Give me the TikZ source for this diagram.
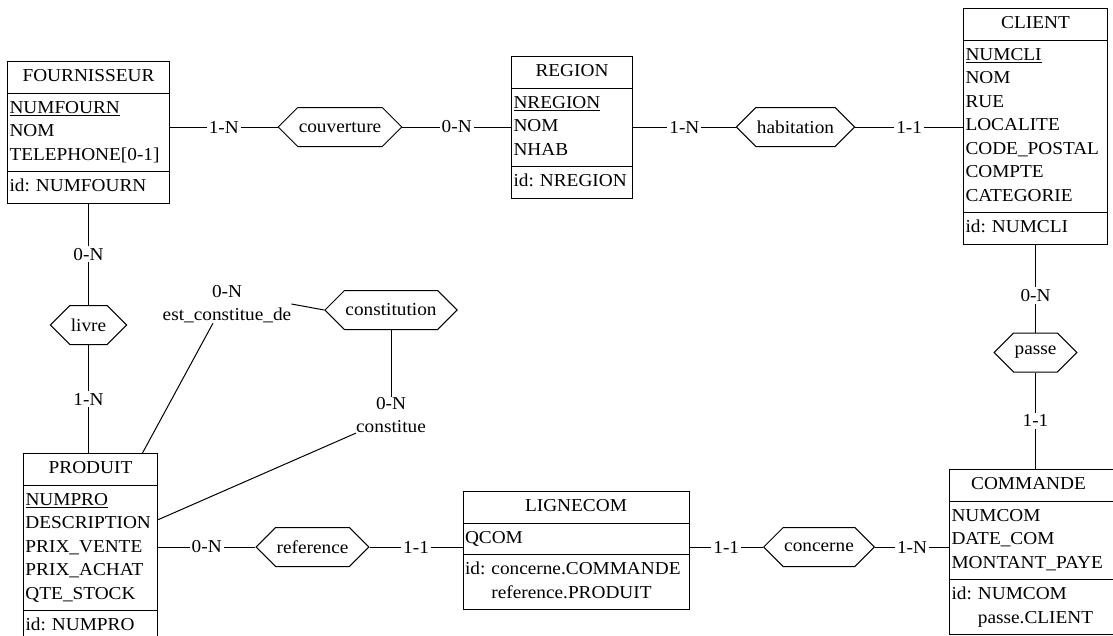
\documentclass[tikz,border=0pt]{standalone}
\usepackage{fontspec}
\setmainfont{Liberation Serif}[FakeStretch=1.06]
\usetikzlibrary{shapes.multipart,shapes.symbols,positioning}
\newcommand{\enttitle}[1]{\hbox to\hsize{\hfil\strut #1\hfil}}

\begin{document}
\begin{tikzpicture}[
  x=1pt, y=-1pt,
  font=\fontsize{18.2}{23.5}\selectfont\frenchspacing,
  entity/.style={draw, line width=1pt, rectangle split, rectangle split parts=3, text width=#1, align=left, inner xsep=2pt, inner ysep=3.5pt, anchor=north},
  rel/.style={draw, line width=1pt, signal, signal to=east and west, minimum height=39pt, inner xsep=1pt, inner ysep=0pt},
  link/.style={line width=1pt},
  card/.style={fill=white, inner sep=2pt},
  role/.style={align=center, inner sep=0pt}
]
\useasboundingbox (0,0) rectangle (1113,635);
% entities
\node[entity=158pt] (fourn) at (88.5,61) {\enttitle{FOURNISSEUR}
  \nodepart{two}\strut\underline{NUMFOURN}\\NOM\\TELEPHONE[0-1]\strut
  \nodepart{three}\strut id: NUMFOURN\strut};
\node[entity=117pt] (region) at (572,56) {\enttitle{REGION}
  \nodepart{two}\strut\underline{NREGION}\\NOM\\NHAB\strut
  \nodepart{three}\strut id: NREGION\strut};
\node[entity=140pt] (client) at (1035.5,8) {\enttitle{CLIENT}
  \nodepart{two}\strut\underline{NUMCLI}\\NOM\\RUE\\LOCALITE\\CODE\_POSTAL\\COMPTE\\CATEGORIE\strut
  \nodepart{three}\strut id: NUMCLI\strut};
\node[entity=130pt] (produit) at (90.5,453) {\enttitle{PRODUIT}
  \nodepart{two}\strut\underline{NUMPRO}\\DESCRIPTION\\PRIX\_VENTE\\PRIX\_ACHAT\\QTE\_STOCK\strut
  \nodepart{three}\strut id: NUMPRO\strut};
\node[entity=222pt] (lignecom) at (576,491) {\enttitle{LIGNECOM}
  \nodepart{two}\strut QCOM\strut
  \nodepart{three}\strut id: concerne.COMMANDE\\\phantom{id: }reference.PRODUIT\strut};
\node[entity=170pt, anchor=north west] (commande) at (949,469) {\hbox to 154pt{\hfil\strut COMMANDE\hfil}
  \nodepart{two}\strut NUMCOM\\DATE\_COM\\MONTANT\_PAYE\strut
  \nodepart{three}\strut id: NUMCOM\\\phantom{id: }passe.CLIENT\strut};
% relations
\node[rel] (couv) at (340,127) {couverture};
\node[rel] (habit) at (795.5,127) {habitation};
\node[rel] (livre) at (88.5,325) {livre};
\node[rel] (constit) at (391,310) {constitution};
\node[rel] (passe) at (1035.5,352.5) {passe};
\node[rel] (refer) at (312.5,547) {reference};
\node[rel] (concerne) at (819,547) {concerne};
% roles
\node[role] (estc) at (227,304) {0-N\\est\_constitue\_de};
\node[role] (constue) at (391,415) {0-N\\constitue};
% links
\draw[link] (fourn.east |- couv.west) -- node[card]{1-N} (couv.west);
\draw[link] (couv.east) -- node[card]{0-N} (couv.east -| region.west);
\draw[link] (region.east |- habit.west) -- node[card]{1-N} (habit.west);
\draw[link] (habit.east) -- node[card]{1-1} (habit.east -| client.west);
\draw[link] (fourn.south) -- node[card]{0-N} (livre.north);
\draw[link] (livre.south) -- node[card]{1-N} (livre.south |- produit.north);
\draw[link] (client.south) -- node[card, pos=0.58]{0-N} (passe.north);
\draw[link] (passe.south) -- node[card]{1-1} (passe.south |- commande.north);
\draw[link] (produit.east |- refer.west) -- node[card]{0-N} (refer.west);
\draw[link] (refer.east) -- node[card]{1-1} (refer.east -| lignecom.west);
\draw[link] (lignecom.east |- concerne.west) -- node[card]{1-1} (concerne.west);
\draw[link] (concerne.east) -- node[card]{1-N} (concerne.east -| commande.west);
\draw[link] (constit.west) -- (estc.east);
\draw[link] ([xshift=52pt]produit.north) -- ([xshift=-14pt]estc.south);
\draw[link] (constit.south) -- (constue.north);
\draw[link] ([yshift=28pt]produit.east) -- (constue.south west);
\end{tikzpicture}
\end{document}
